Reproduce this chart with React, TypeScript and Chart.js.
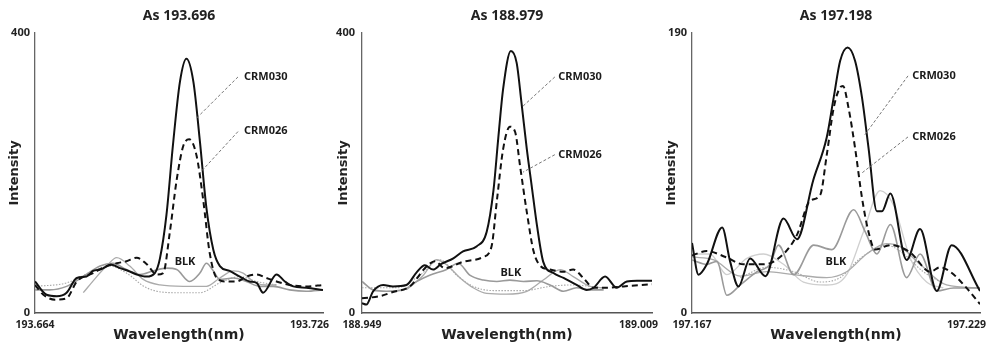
import React, { useEffect, useRef } from 'react';
import { Chart, registerables } from 'chart.js';

Chart.register(...registerables);

type Pt = [number, number];

// ---------- Panel 1: As 193.696 ----------
const p1Title = 'As 193.696';
const p1XTicks = ['193.664', '193.726'];
const p1YMax = 400;
const p1Crm030: Pt[] = [
  [193.664, 45], [193.6665, 26], [193.6687, 24], [193.6708, 29], [193.673, 50], [193.6751, 52],
  [193.6765, 60], [193.678, 62], [193.6805, 69], [193.6823, 64], [193.6841, 60], [193.6859, 55],
  [193.688, 52], [193.6898, 57], [193.6909, 78], [193.6923, 140], [193.6937, 240], [193.6952, 330],
  [193.6966, 363], [193.6981, 330], [193.6995, 245], [193.7009, 150], [193.7024, 90], [193.7038, 67],
  [193.7059, 60], [193.7081, 52], [193.7102, 45], [193.7117, 43], [193.7131, 29], [193.716, 55],
  [193.7178, 45], [193.7196, 38], [193.7224, 36], [193.726, 33],
];
const p1Crm026: Pt[] = [
  [193.664, 40], [193.6658, 26], [193.6683, 19], [193.6708, 21], [193.673, 45], [193.6765, 57],
  [193.6794, 67], [193.6816, 71], [193.6837, 74], [193.6859, 79], [193.688, 70], [193.6902, 55],
  [193.6916, 57], [193.693, 114], [193.6945, 190], [193.6959, 238], [193.6972, 248], [193.6988, 224],
  [193.7002, 162], [193.7016, 86], [193.7031, 50], [193.7052, 45], [193.7074, 45], [193.7095, 52],
  [193.7117, 55], [193.7138, 50], [193.716, 45], [193.7188, 40], [193.7224, 38], [193.726, 40],
];
const p1Blk: Pt[] = [
  [193.664, 33], [193.6672, 33], [193.6708, 38], [193.6744, 52], [193.678, 67], [193.6808, 71],
  [193.6837, 62], [193.6866, 55], [193.6894, 60], [193.6923, 64], [193.6945, 62], [193.6973, 45],
  [193.6995, 57], [193.7009, 71], [193.7024, 60], [193.7038, 48], [193.7067, 50], [193.7095, 45],
  [193.7124, 38], [193.7153, 38], [193.7188, 33], [193.7224, 31], [193.726, 33],
];
const p1GrayA: Pt[] = [
  [193.6744, 29], [193.6773, 52], [193.6794, 67], [193.6816, 79], [193.6844, 67], [193.6873, 48],
  [193.6909, 40], [193.6959, 38], [193.7009, 38], [193.7038, 50], [193.7067, 60], [193.7088, 57],
  [193.711, 45], [193.7138, 40], [193.716, 40],
];
const p1Dotted: Pt[] = [
  [193.664, 38], [193.6708, 43], [193.6765, 60], [193.6801, 67], [193.6837, 57], [193.688, 36],
  [193.6937, 29], [193.6995, 29], [193.7038, 43], [193.7081, 52], [193.7117, 45], [193.716, 40],
];

// ---------- Panel 2: As 188.979 ----------
const p2Title = 'As 188.979';
const p2XTicks = ['188.949', '189.009'];
const p2YMax = 400;
const p2Crm030: Pt[] = [
  [188.949, 14], [188.9499, 12], [188.9513, 31], [188.9534, 40], [188.9554, 38], [188.9582, 40],
  [188.9603, 58], [188.962, 68], [188.9637, 62], [188.9654, 70], [188.9679, 78], [188.9699, 88],
  [188.9727, 95], [188.9748, 116], [188.9762, 175], [188.9772, 250], [188.9782, 320], [188.9798, 374],
  [188.981, 357], [188.982, 300], [188.9831, 234], [188.9841, 182], [188.9852, 125], [188.9865, 73],
  [188.9886, 57], [188.9907, 50], [188.9934, 40], [188.9955, 33], [188.9969, 36], [188.9993, 52],
  [189.0017, 36], [189.0038, 45], [189.0059, 46], [189.009, 46],
];
const p2Crm026: Pt[] = [
  [188.949, 21], [188.9527, 24], [188.9554, 30], [188.9589, 38], [188.9623, 66], [188.9641, 74],
  [188.9661, 64], [188.9699, 73], [188.9741, 80], [188.9758, 95], [188.9769, 160], [188.9782, 234],
  [188.9796, 266], [188.9807, 258], [188.9817, 210], [188.9831, 144], [188.9845, 88], [188.9858, 68],
  [188.9879, 62], [188.9907, 59], [188.9927, 62], [188.9948, 50], [188.9969, 36], [188.9997, 36],
  [189.0031, 38], [189.009, 41],
];
const p2Blk: Pt[] = [
  [188.949, 45], [188.9513, 33], [188.9541, 31], [188.9575, 33], [188.9603, 45], [188.963, 54],
  [188.9665, 62], [188.9689, 71], [188.9713, 54], [188.9741, 47], [188.9769, 45], [188.9796, 47],
  [188.9824, 45], [188.9852, 46], [188.9879, 40], [188.9907, 31], [188.9934, 36], [188.9962, 33],
  [188.999, 33],
];
const p2GrayA: Pt[] = [
  [188.9582, 33], [188.9617, 54], [188.9644, 76], [188.9665, 69], [188.9693, 50], [188.972, 36],
  [188.9748, 28], [188.9789, 27], [188.9831, 31], [188.9865, 47], [188.99, 62], [188.9927, 52],
  [188.9962, 38], [188.999, 36],
];
const p2Dotted: Pt[] = [
  [188.949, 36], [188.9561, 36], [188.961, 54], [188.9651, 76], [188.9686, 54], [188.972, 38],
  [188.9762, 32], [188.9824, 32], [188.9879, 38], [188.9921, 40], [188.999, 36],
];

// ---------- Panel 3: As 197.198 ----------
const p3Title = 'As 197.198';
const p3XTicks = ['197.167', '197.229'];
const p3YMax = 190;
const p3Crm030: Pt[] = [
  [197.167, 47.5], [197.1684, 26], [197.1702, 33], [197.1735, 58], [197.1752, 35], [197.177, 18],
  [197.1795, 37], [197.1828, 25], [197.1867, 64], [197.1896, 50], [197.1931, 90], [197.196, 119],
  [197.1975, 146], [197.1989, 171], [197.2005, 180], [197.2021, 171], [197.2036, 146], [197.205, 112],
  [197.2068, 69], [197.2079, 69], [197.2097, 81], [197.2132, 36], [197.2161, 57], [197.2197, 15],
  [197.2229, 46], [197.229, 15],
];
const p3Crm026: Pt[] = [
  [197.167, 39], [197.1702, 42], [197.1742, 38], [197.1781, 33], [197.1824, 33], [197.1867, 40],
  [197.1896, 53], [197.1924, 76], [197.1946, 80], [197.196, 107], [197.1975, 139], [197.1989, 153],
  [197.1995, 154], [197.2007, 139], [197.2021, 112], [197.2036, 78], [197.205, 55], [197.2064, 43],
  [197.2097, 46], [197.214, 41], [197.2183, 28], [197.2204, 31], [197.2226, 28], [197.2261, 17],
  [197.229, 6],
];
const p3Blk: Pt[] = [
  [197.167, 36], [197.1702, 33], [197.1724, 35], [197.1745, 12], [197.1774, 19], [197.181, 28],
  [197.1838, 33], [197.1856, 46], [197.1889, 26], [197.1932, 46], [197.1971, 43], [197.2018, 70],
  [197.2043, 55], [197.2068, 40], [197.2097, 60], [197.2132, 24], [197.2161, 40], [197.2197, 15],
  [197.2233, 17], [197.229, 17],
];
const p3GrayA: Pt[] = [
  [197.167, 38], [197.1717, 36], [197.1774, 25], [197.1831, 28], [197.1889, 26], [197.196, 24],
  [197.2003, 28], [197.2046, 40], [197.2089, 47], [197.2118, 45], [197.2161, 33], [197.2218, 19],
  [197.229, 17],
];
const p3Light: Pt[] = [
  [197.167, 40], [197.1709, 40], [197.1745, 26], [197.1788, 37], [197.1824, 40], [197.1867, 33],
  [197.191, 21], [197.196, 19], [197.2003, 26], [197.2039, 55], [197.2075, 83], [197.2104, 73],
  [197.214, 37], [197.2175, 21], [197.2211, 17],
];
const p3Dotted: Pt[] = [
  [197.1774, 24], [197.1831, 31], [197.1889, 28], [197.1946, 21], [197.1989, 24], [197.2032, 37],
  [197.2089, 46], [197.2118, 42], [197.2168, 28], [197.2211, 20],
];

// ---------- styles ----------
const lineStyles: Record<string, any> = {
  crm030: { borderColor: '#111111', borderWidth: 2 },
  crm026: { borderColor: '#111111', borderWidth: 2, borderDash: [6, 4] },
  blk: { borderColor: '#9a9a9a', borderWidth: 1.6 },
  grayA: { borderColor: '#ababab', borderWidth: 1.3 },
  light: { borderColor: '#cfcfcf', borderWidth: 1.3 },
  dotted: { borderColor: '#a8a8a8', borderWidth: 1.1, borderDash: [1.5, 1.5] },
};

type Note = { text: string; x: number; y: number; align: CanvasTextAlign; from?: Pt; to?: Pt };

const p1Notes: Note[] = [
  { text: 'CRM030', x: 193.709, y: 337, align: 'left', from: [193.7077, 337], to: [193.6989, 279] },
  { text: 'CRM026', x: 193.709, y: 260, align: 'left', from: [193.7077, 259], to: [193.6995, 200] },
  { text: 'BLK', x: 193.6963, y: 73, align: 'center' },
];
const p2Notes: Note[] = [
  { text: 'CRM030', x: 188.9896, y: 337, align: 'left', from: [188.9889, 337], to: [188.9821, 294] },
  { text: 'CRM026', x: 188.9896, y: 226, align: 'left', from: [188.9889, 226], to: [188.9823, 201] },
  { text: 'BLK', x: 188.9798, y: 57, align: 'center' },
];
const p3Notes: Note[] = [
  { text: 'CRM030', x: 197.2144, y: 160.8, align: 'left', from: [197.2135, 160.8], to: [197.2042, 120.8] },
  { text: 'CRM026', x: 197.2144, y: 119.4, align: 'left', from: [197.2135, 119.4], to: [197.2036, 95] },
  { text: 'BLK', x: 197.198, y: 34.6, align: 'center' },
];

type PanelCfg = {
  title: string;
  xTicks: string[];
  yMax: number;
  series: [string, Pt[]][];
  notes: Note[];
  left: number;
  yAxisWidth: number;
  padRight: number;
  yTitlePad: number;
  yTickPad: number;
};

const panels: PanelCfg[] = [
  {
    title: p1Title, xTicks: p1XTicks, yMax: p1YMax, notes: p1Notes, left: 0,
    yAxisWidth: 35, padRight: 7, yTitlePad: 7, yTickPad: 5,
    series: [['crm030', p1Crm030], ['crm026', p1Crm026], ['blk', p1Blk], ['grayA', p1GrayA], ['dotted', p1Dotted]],
  },
  {
    title: p2Title, xTicks: p2XTicks, yMax: p2YMax, notes: p2Notes, left: 330,
    yAxisWidth: 32, padRight: 8, yTitlePad: 6, yTickPad: 7,
    series: [['crm030', p2Crm030], ['crm026', p2Crm026], ['blk', p2Blk], ['grayA', p2GrayA], ['dotted', p2Dotted]],
  },
  {
    title: p3Title, xTicks: p3XTicks, yMax: p3YMax, notes: p3Notes, left: 660,
    yAxisWidth: 32, padRight: 10, yTitlePad: 4, yTickPad: 5,
    series: [['crm030', p3Crm030], ['crm026', p3Crm026], ['blk', p3Blk], ['grayA', p3GrayA], ['light', p3Light], ['dotted', p3Dotted]],
  },
];

const decorPlugin = {
  id: 'decor',
  afterDraw(chart: any, _args: any, opts: any) {
    const { ctx, chartArea } = chart;
    const x = chart.scales.x;
    const y = chart.scales.y;
    ctx.save();
    ctx.fillStyle = '#222';
    ctx.textBaseline = 'middle';
    ctx.font = 'bold 10.5px "Noto Sans"';
    const ty = chartArea.bottom + 12;
    ctx.textAlign = 'center';
    ctx.fillText(opts.xTicks[0], x.getPixelForValue(x.min), ty);
    ctx.textAlign = 'right';
    ctx.fillText(opts.xTicks[1], x.getPixelForValue(x.max) + 6, ty);
    for (const n of opts.notes as Note[]) {
      if (n.from && n.to) {
        ctx.beginPath();
        ctx.setLineDash([3, 2]);
        ctx.strokeStyle = '#777';
        ctx.lineWidth = 1;
        ctx.moveTo(x.getPixelForValue(n.from[0]), y.getPixelForValue(n.from[1]));
        ctx.lineTo(x.getPixelForValue(n.to[0]), y.getPixelForValue(n.to[1]));
        ctx.stroke();
        ctx.setLineDash([]);
      }
      ctx.font = 'bold 11px "Noto Sans"';
      ctx.textAlign = n.align;
      ctx.fillStyle = '#1a1a1a';
      ctx.fillText(n.text, x.getPixelForValue(n.x), y.getPixelForValue(n.y));
    }
    ctx.restore();
  },
};

function Panel({ cfg }: { cfg: PanelCfg }) {
  const ref = useRef<HTMLCanvasElement>(null);
  useEffect(() => {
    const xs = cfg.xTicks.map(Number);
    const chart = new Chart(ref.current as HTMLCanvasElement, {
      type: 'line',
      data: {
        datasets: cfg.series.map(([key, pts]) => ({
          label: key,
          data: pts.map(([px, py]) => ({ x: px, y: py })),
          ...lineStyles[key],
          pointRadius: 0,
          fill: false,
          cubicInterpolationMode: 'monotone',
        })),
      },
      options: {
        animation: false,
        responsive: false,
        events: [],
        layout: { padding: { left: 0, right: cfg.padRight, top: 0, bottom: 0 } },
        scales: {
          x: {
            type: 'linear',
            min: xs[0],
            max: xs[1],
            grid: { display: false },
            border: { display: true, color: '#555', width: 1.6 },
            ticks: { display: false },
            title: {
              display: true,
              text: 'Wavelength(nm)',
              color: '#222',
              font: { family: '"DejaVu Sans"', weight: 'bold', size: 14 },
              padding: { top: 0, bottom: 0 },
            },
            afterFit: (s: any) => { s.height = 31; },
          },
          y: {
            min: 0,
            max: cfg.yMax,
            grid: { display: false, drawTicks: false },
            border: { display: true, color: '#666', width: 1.3 },
            ticks: {
              color: '#222',
              padding: cfg.yTickPad,
              font: { family: '"Noto Sans"', weight: 'bold', size: 11 },
            },
            afterBuildTicks: (s: any) => { s.ticks = [{ value: 0 }, { value: cfg.yMax }]; },
            title: {
              display: true,
              text: 'Intensity',
              color: '#222',
              font: { family: '"DejaVu Sans"', weight: 'bold', size: 13 },
              padding: { top: cfg.yTitlePad, bottom: 0 },
            },
            afterFit: (s: any) => { s.width = cfg.yAxisWidth; },
          },
        },
        plugins: {
          legend: { display: false },
          tooltip: { enabled: false },
          title: {
            display: true,
            text: cfg.title,
            color: '#222',
            fullSize: false,
            font: { family: '"Noto Sans"', weight: 'bold', size: 14 },
            padding: { top: 8, bottom: 8 },
          },
          decor: { xTicks: cfg.xTicks, notes: cfg.notes },
        } as any,
      },
      plugins: [decorPlugin],
    } as any);
    return () => chart.destroy();
  }, [cfg]);
  return (
    <canvas
      ref={ref}
      width={330}
      height={344}
      style={{ position: 'absolute', left: cfg.left, top: 0, width: 330, height: 344 }}
    />
  );
}

export default function App() {
  return (
    <div style={{ position: 'absolute', left: 0, top: 0, width: 990, height: 344, background: '#fff', overflow: 'hidden' }}>
      {panels.map((p) => (
        <Panel key={p.title} cfg={p} />
      ))}
    </div>
  );
}
